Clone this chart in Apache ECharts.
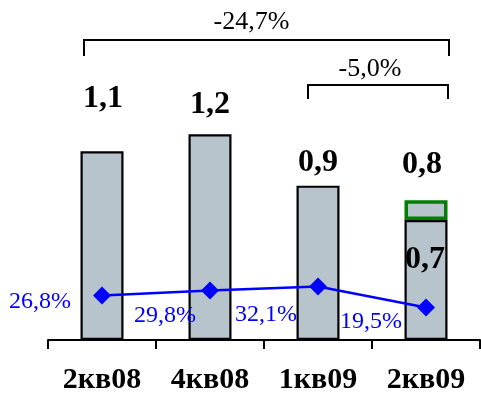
<!DOCTYPE html>
<html><head><meta charset="utf-8">
<script src="https://cdn.jsdelivr.net/npm/echarts@6/dist/echarts.min.js"></script>
<style>html,body{margin:0;padding:0;background:#fff}#c{width:481px;height:393px}</style>
</head><body><div id="c"></div>
<script>
const categories = ['2кв08', '4кв08', '1кв09', '2кв09'];
const barValues = [1.1, 1.2, 0.9, 0.7];
const extraValues = [null, null, null, 0.115];
const barLabels = ['1,1', '1,2', '0,9', '0,7'];
const extraLabels = [null, null, null, '0,8'];
const marginValues = [26.8, 29.8, 32.1, 19.5];
const marginLabels = ['26,8%', '29,8%', '32,1%', '19,5%'];
const changeLabels = ['-24,7%', '-5,0%'];

const serif = "'Liberation Serif', 'Times New Roman', serif";
const barFill = '#b7c4cb';
const barLabelOffsets = [[1, -32], [0, -8], [0, -2], [-1, 19]];
const pctOffsets = [[-62, 6], [-45, 25], [-52, 28], [-55, 14]];

const chart = echarts.init(document.getElementById('c'));
chart.setOption({
  animation: false,
  grid: { left: 48, right: 1, top: 10, bottom: 53, containLabel: false, outerBoundsMode: 'none' },
  xAxis: {
    type: 'category', data: categories,
    axisLine: { lineStyle: { color: '#000', width: 2 } },
    axisTick: { show: true, length: 9, lineStyle: { color: '#000', width: 2 } },
    axisLabel: { color: '#000', fontFamily: serif, fontWeight: 'bold', fontSize: 30, margin: 25 }
  },
  yAxis: [
    { type: 'value', min: 0, max: 1.924, show: false, splitLine: { show: false } },
    { type: 'value', min: 0, max: 198.3, show: false, splitLine: { show: false } }
  ],
  series: [
    {
      type: 'bar', stack: 'v', barWidth: 43,
      itemStyle: { color: barFill, borderColor: '#000', borderWidth: 2.2 },
      data: barValues.map((v, i) => ({
        value: v,
        label: {
          show: true, formatter: barLabels[i],
          position: i === 3 ? 'insideTop' : 'top',
          offset: barLabelOffsets[i],
          color: '#000', fontFamily: serif, fontWeight: 'bold', fontSize: 32
        }
      })),
      z: 2
    },
    {
      type: 'bar', stack: 'v', barWidth: 43,
      itemStyle: { color: barFill, borderColor: '#007f00', borderWidth: 3.5 },
      data: extraValues.map((v, i) => v == null ? null : ({
        value: v,
        label: {
          show: true, formatter: extraLabels[i], position: 'top', offset: [-4, -14],
          color: '#000', fontFamily: serif, fontWeight: 'bold', fontSize: 32
        }
      })),
      z: 3
    },
    {
      type: 'line', yAxisIndex: 1, data: marginValues.map((v, i) => ({
        value: v,
        label: { show: true, formatter: marginLabels[i], position: 'inside', offset: pctOffsets[i],
                 color: '#0000ff', fontFamily: serif, fontSize: 24 }
      })),
      symbol: 'diamond', symbolSize: 18,
      lineStyle: { color: '#0000ff', width: 2.5 },
      itemStyle: { color: '#0000ff' },
      z: 5
    }
  ]
});

function drawBrackets() {
  const px = i => chart.convertToPixel({ xAxisIndex: 0 }, categories[i]);
  const x0 = px(0) - 18, x3 = px(3) + 23, x2 = px(2) - 10, x3b = px(3) + 22;
  const ls = { stroke: '#000', lineWidth: 2, fill: null };
  const ts = t => ({ text: t, fill: '#000', font: '26px ' + serif, textAlign: 'center', textVerticalAlign: 'middle' });
  chart.setOption({
    graphic: [
      { type: 'polyline', shape: { points: [[x0, 56], [x0, 40], [x3, 40], [x3, 56]] }, style: ls },
      { type: 'polyline', shape: { points: [[x2, 99], [x2, 85], [x3b, 85], [x3b, 99]] }, style: ls },
      { type: 'text', x: (x0 + x3) / 2 - 15, y: 22, style: ts(changeLabels[0]) },
      { type: 'text', x: (x2 + x3b) / 2 - 8, y: 69, style: ts(changeLabels[1]) }
    ]
  });
}
drawBrackets();
</script></body></html>
